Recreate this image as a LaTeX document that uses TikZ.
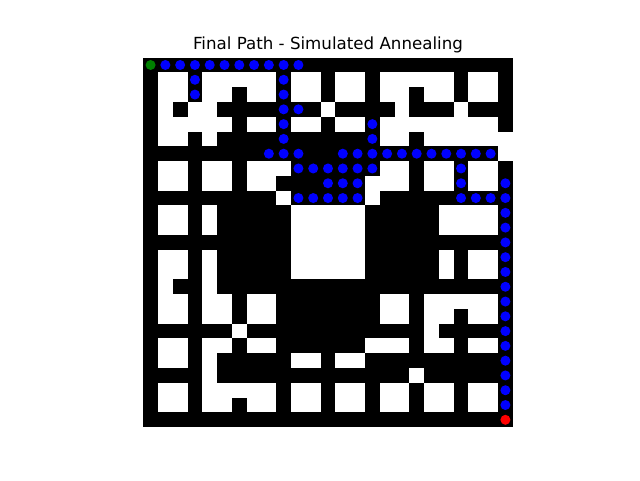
\documentclass[tikz,border=0pt]{standalone}
\usepackage{fontspec}
\setmainfont{DejaVu Sans}
\definecolor{mgreen}{RGB}{0,128,0}
\definecolor{mblue}{RGB}{0,0,255}
\definecolor{mred}{RGB}{255,0,0}
\tikzset{
  cellfree/.style={fill=white,draw=none},
  pathdot/.style={fill=mblue,draw=none},
  startdot/.style={fill=mgreen,draw=none},
  enddot/.style={fill=mred,draw=none},
  titletext/.style={font=\fontsize{16.67pt}{20pt}\selectfont,anchor=base,inner sep=0pt}
}
\begin{document}
\begin{tikzpicture}[x=1pt,y=1pt]
\fill[white] (0,0) rectangle (640,480);
\useasboundingbox (0,0) rectangle (640,480);
\node[titletext] (title) at (328,430.7) {Final Path - Simulated Annealing};
\begin{scope}[shift={(143.2pt,422.4pt)},x=14.784pt,y=-14.784pt]
  \fill[black] (0,0) rectangle (25,25);
  \foreach \r/\cl in {
    1/{1,2,4,5,6,7,8,10,11,13,14,16,17,18,19,20,22,23},
    2/{1,2,4,5,7,8,10,11,13,14,16,17,19,20,22,23},
    3/{1,3,4,12,17,21},
    4/{1,2,3,4,5,7,8,10,11,13,14,16,17,18,19,20,21,22,23},
    5/{1,2,4,16,17,19,20,21,22,23,24},
    6/{24},
    7/{1,2,4,5,7,8,9,16,17,19,20,22,23},
    8/{1,2,4,5,7,8,15,16,17,19,20,22,23},
    9/{9,15},
    10/{1,2,4,10,11,12,13,14,20,21,22,23},
    11/{1,2,4,10,11,12,13,14,20,21,22,23},
    12/{10,11,12,13,14},
    13/{1,2,4,10,11,12,13,14,20,22,23},
    14/{1,2,4,10,11,12,13,14,20,22,23},
    15/{1,4},
    16/{1,2,4,5,7,8,16,17,19,20,21,22,23},
    17/{1,2,4,5,7,8,16,17,19,20,22,23},
    18/{6,19},
    19/{1,2,4,5,7,8,15,16,17,19,20,22,23},
    20/{1,2,4,10,11,13,14},
    21/{4,18},
    22/{1,2,4,5,6,7,8,10,11,13,14,16,17,19,20,22,23},
    23/{1,2,4,5,7,8,10,11,13,14,16,17,19,20,22,23}}{
    \foreach \c in \cl {
      \path[cellfree] (\c,\r) rectangle ++(1,1);
    }
  }
  \foreach \r/\cl in {
    0/{1,2,3,4,5,6,7,8,9,10},
    1/{3,9}, 2/{3,9}, 3/{9,10}, 4/{9,15}, 5/{9,15},
    6/{8,9,10,13,14,15,16,17,18,19,20,21,22,23},
    7/{10,11,12,13,14,15,21},
    8/{12,13,14,21,24},
    9/{10,11,12,13,14,21,22,23,24},
    10/{24},11/{24},12/{24},13/{24},14/{24},15/{24},16/{24},
    17/{24},18/{24},19/{24},20/{24},21/{24},22/{24},23/{24}}{
    \foreach \c in \cl {
      \path[pathdot] (\c+0.5,\r+0.5) circle[radius=5pt];
    }
  }
  \path[startdot] (0.5,0.5) circle[radius=5pt];
  \path[enddot] (24.5,24.5) circle[radius=5pt];
\end{scope}
\end{tikzpicture}
\end{document}
